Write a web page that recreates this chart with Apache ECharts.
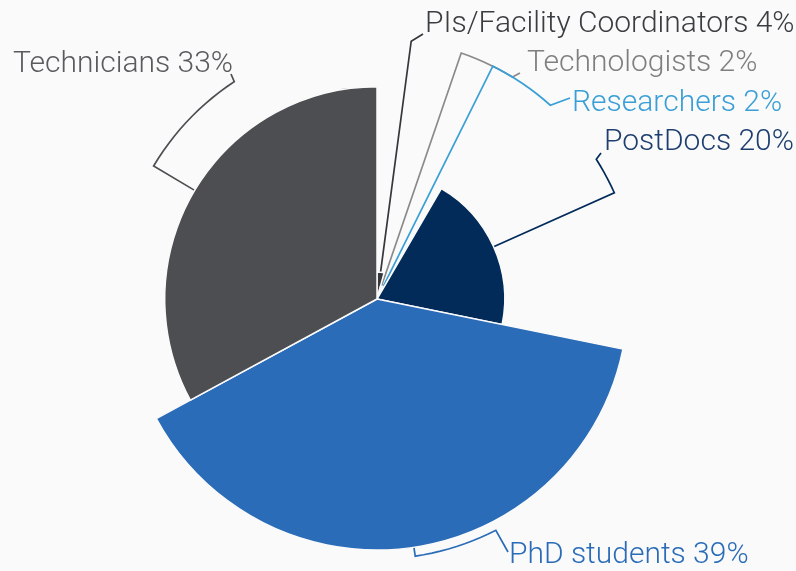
<!DOCTYPE html>
<html>
<head>
<meta charset="utf-8">
<style>
    html, body {
        margin: 0;
        padding: 0;
        background: #fafafa;
    }

    #main {
        width: 796px;
        height: 571px;
    }
</style>
<script src="https://cdn.jsdelivr.net/npm/echarts@6.0.0/dist/echarts.min.js"></script>
</head>
<body>
<div id="main"></div>

<script>
    // staff groups, clockwise from 12 o'clock
    var categories = ['PIs/Facility Coordinators', 'Technologists', 'Researchers', 'PostDocs', 'PhD students', 'Technicians'];
    var shares = [4.2, 2.1, 2.1, 19.8, 38.9, 32.9];

    var sliceColors = ['#34373b', '#8a8a8a', '#3a9fd6', '#022b5a', '#2b6cb8', '#4d4e52'];
    var textColors = ['#3a3d41', '#7f7f7f', '#3a9fd6', '#1d3e6e', '#2b6cb8', '#5a5b5e'];

    var cx = 377, cy = 299, outerR = 251, ringR = 260;

    // where each label sits, and where its guide line bends round the ring
    var labelPlaces = [
        { x: 425, y: 24, align: 'left', arcTo: null, endDx: -2, endDy: 10 },
        { x: 527, y: 63, align: 'left', arcTo: 31.4, endDx: -7, endDy: 10 },
        { x: 572, y: 103, align: 'left', arcTo: 41.8, endDx: -2, endDy: -5 },
        { x: 604, y: 142, align: 'left', arcTo: 57.5, endDx: -3, endDy: 11 },
        { x: 509, y: 555, align: 'left', arcTo: 152.8, endDx: -1, endDy: -3 },
        { x: 233, y: 64, align: 'right', arcTo: 326.7, endDx: -2, endDy: 10 }
    ];

    var total = shares.reduce(function (a, b) { return a + b; }, 0);
    var maxShare = Math.max.apply(null, shares);

    // mid angle of every slice, in degrees clockwise from north
    var midAngles = [];
    var acc = 0;
    shares.forEach(function (v) {
        midAngles.push((acc + v / 2) / total * 360);
        acc += v;
    });

    function polar(r, deg) {
        var a = deg * Math.PI / 180;
        return [cx + r * Math.sin(a), cy - r * Math.cos(a)];
    }

    function guidePoints(i) {
        var place = labelPlaces[i];
        var mid = midAngles[i];
        var pts = [polar(shares[i] / maxShare * outerR, mid), polar(ringR, mid)];
        if (place.arcTo != null) {
            var steps = Math.max(2, Math.ceil(Math.abs(place.arcTo - mid) / 2));
            for (var s = 1; s <= steps; s++) {
                pts.push(polar(ringR, mid + (place.arcTo - mid) * s / steps));
            }
        }
        pts.push([place.x + place.endDx, place.y + place.endDy]);
        return pts;
    }

    var chart = echarts.init(document.getElementById('main'), null, { renderer: 'canvas' });

    var option = {
        backgroundColor: '#fafafa',
        animation: false,
        series: [{
            type: 'pie',
            roseType: 'radius',
            center: [cx, cy],
            radius: [0, outerR],
            startAngle: 90,
            clockwise: true,
            avoidLabelOverlap: false,
            itemStyle: {
                borderColor: '#fafafa',
                borderWidth: 1.5
            },
            label: {
                show: true,
                position: 'outside',
                fontFamily: 'Roboto',
                fontWeight: 300,
                fontSize: 30,
                formatter: function (p) {
                    return p.name + ' ' + Math.round(p.value) + '%';
                }
            },
            labelLine: {
                show: true,
                smooth: false,
                lineStyle: { width: 1.7 }
            },
            labelLayout: function (params) {
                var place = labelPlaces[params.dataIndex];
                return {
                    x: place.x,
                    y: place.y,
                    align: place.align,
                    verticalAlign: 'middle',
                    labelLinePoints: guidePoints(params.dataIndex)
                };
            },
            emphasis: { disabled: true },
            data: categories.map(function (name, i) {
                return {
                    name: name,
                    value: shares[i],
                    itemStyle: { color: sliceColors[i] },
                    label: { color: textColors[i] },
                    labelLine: { lineStyle: { color: sliceColors[i] } }
                };
            })
        }]
    };

    chart.setOption(option);
</script>
</body>
</html>
